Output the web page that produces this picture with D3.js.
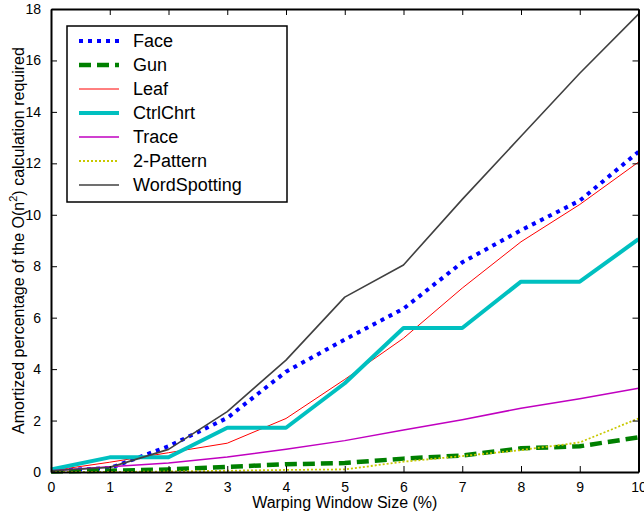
<!DOCTYPE html>
<html>
<head>
<meta charset="utf-8">
<script src="https://cdn.jsdelivr.net/npm/d3@7"></script>
<style>
  body { margin: 0; background: #fff; }
  svg text { font-family: "Liberation Sans", Arial, sans-serif; }
</style>
</head>
<body>
<div id="chart"></div>
<script>
// warping window sizes (%)
var windowSizes = [0, 1, 2, 3, 4, 5, 6, 7, 8, 9, 10];

var face         = [0.05, 0.15, 1.0, 2.1, 3.9, 5.15, 6.35, 8.15, 9.4, 10.55, 12.45];
var gun          = [0.02, 0.05, 0.1, 0.2, 0.3, 0.35, 0.52, 0.64, 0.92, 1.0, 1.35];
var leaf         = [0.05, 0.38, 0.75, 1.12, 2.08, 3.6, 5.2, 7.15, 8.95, 10.4, 12.05];
var ctrlChrt     = [0.1, 0.57, 0.57, 1.72, 1.72, 3.45, 5.6, 5.6, 7.4, 7.4, 9.05];
var trace        = [0.05, 0.2, 0.35, 0.58, 0.88, 1.22, 1.63, 2.03, 2.48, 2.85, 3.26];
var twoPattern   = [0.0, 0.0, 0.02, 0.05, 0.08, 0.1, 0.4, 0.62, 0.85, 1.15, 2.08];
var wordSpotting = [0.05, 0.18, 0.88, 2.35, 4.35, 6.8, 8.05, 10.6, 13.05, 15.5, 17.8];

var seriesNames = ["Face", "Gun", "Leaf", "CtrlChrt", "Trace", "2-Pattern", "WordSpotting"];
var seriesValues = [face, gun, leaf, ctrlChrt, trace, twoPattern, wordSpotting];

var xTicks = [0, 1, 2, 3, 4, 5, 6, 7, 8, 9, 10];
var yTicks = [0, 2, 4, 6, 8, 10, 12, 14, 16, 18];

var styles = {
    "Face":         {color: "#0000ff", width: 4,   dash: "4,5"},
    "Gun":          {color: "#008000", width: 4.5, dash: "12,6"},
    "Leaf":         {color: "#ff0000", width: 1,   dash: null},
    "CtrlChrt":     {color: "#00c0c0", width: 4,   dash: null},
    "Trace":        {color: "#c000c0", width: 1.5, dash: null},
    "2-Pattern":    {color: "#c8c800", width: 1.8, dash: "2,2"},
    "WordSpotting": {color: "#404040", width: 1.6, dash: null}
};

var width = 644, height = 514;
var margin = {left: 51, right: 5, top: 9, bottom: 42};

var svg = d3.select("#chart").append("svg")
    .attr("width", width)
    .attr("height", height);

var xScale = d3.scaleLinear()
    .domain([0, 10])
    .range([margin.left, width - margin.right - 0.5]);

var yScale = d3.scaleLinear()
    .domain([0, 18])
    .range([height - margin.bottom, margin.top]);

var x0 = xScale(0), x1 = xScale(10), y0 = yScale(0), y1 = yScale(18);

// lines
var line = d3.line()
    .x(function(d, i) { return xScale(windowSizes[i]); })
    .y(function(d) { return yScale(d); });

var lines = svg.append("g").attr("class", "lines");
seriesNames.forEach(function(name, k) {
    var s = styles[name];
    lines.append("path")
        .datum(seriesValues[k])
        .attr("d", line)
        .attr("fill", "none")
        .attr("stroke", s.color)
        .attr("stroke-width", s.width)
        .attr("stroke-dasharray", s.dash)
        .attr("stroke-linejoin", "round");
});

// axes, ticks inward
var xAxis = d3.axisBottom(xScale).tickValues(xTicks).tickFormat(d3.format("d"))
    .tickSizeInner(-6).tickSizeOuter(0).tickPadding(10);
var yAxis = d3.axisLeft(yScale).tickValues(yTicks).tickFormat(d3.format("d"))
    .tickSizeInner(-6).tickSizeOuter(0).tickPadding(10);
var xTop = d3.axisTop(xScale).tickValues(xTicks).tickFormat("")
    .tickSizeInner(-6).tickSizeOuter(0);
var yRight = d3.axisRight(yScale).tickValues(yTicks).tickFormat("")
    .tickSizeInner(-6).tickSizeOuter(0);

function styleAxis(g) {
    g.selectAll("path").attr("stroke", "#000").attr("stroke-width", 2);
    g.selectAll("line").attr("stroke", "#000").attr("stroke-width", 1);
    g.selectAll("text").attr("fill", "#000").style("font-size", "14px")
        .style("font-family", "'Liberation Sans', Arial, sans-serif");
}

svg.append("g").attr("transform", "translate(0," + y0 + ")").call(xAxis).call(styleAxis);
svg.append("g").attr("transform", "translate(" + x0 + ",0)").call(yAxis).call(styleAxis);
svg.append("g").attr("transform", "translate(0," + y1 + ")").call(xTop).call(styleAxis);
svg.append("g").attr("transform", "translate(" + x1 + ",0)").call(yRight).call(styleAxis);

// axis labels
svg.append("text")
    .attr("x", (x0 + x1) / 2)
    .attr("y", y0 + 36)
    .attr("text-anchor", "middle")
    .style("font-size", "16px")
    .text("Warping Window Size (%)");

var yLabel = svg.append("text")
    .attr("transform", "translate(24," + ((y0 + y1) / 2) + ") rotate(-90)")
    .attr("text-anchor", "middle")
    .style("font-size", "16px");
yLabel.append("tspan").text("Amortized percentage of the O(n");
yLabel.append("tspan").attr("dy", -7).style("font-size", "11px").text("2");
yLabel.append("tspan").attr("dy", 7).text(") calculation required");

// legend
var legend = svg.append("g").attr("class", "legend");
legend.append("rect")
    .attr("x", 67).attr("y", 26)
    .attr("width", 220).attr("height", 176)
    .attr("fill", "#fff")
    .attr("stroke", "#000")
    .attr("stroke-width", 1.5);

var legendY = d3.scalePoint().domain(seriesNames).range([41, 185]);

seriesNames.forEach(function(name) {
    var s = styles[name];
    var ly = legendY(name);
    legend.append("line")
        .attr("x1", 79).attr("x2", 119)
        .attr("y1", ly).attr("y2", ly)
        .attr("stroke", s.color)
        .attr("stroke-width", s.width)
        .attr("stroke-dasharray", s.dash);
    legend.append("text")
        .attr("x", 133).attr("y", ly)
        .attr("dy", "0.35em")
        .style("font-size", "18px")
        .text(name);
});
</script>
</body>
</html>
